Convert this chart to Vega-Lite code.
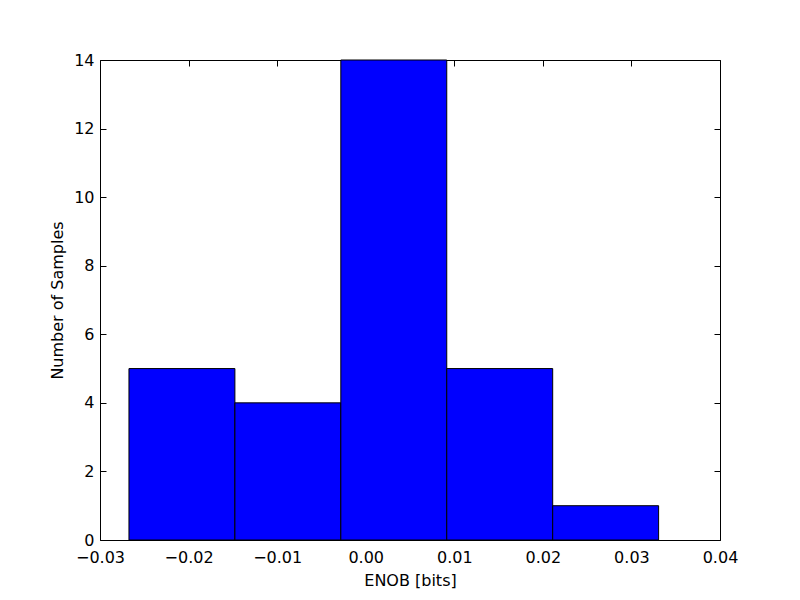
{
  "$schema": "https://vega.github.io/schema/vega-lite/v6.json",
  "width": 620,
  "height": 480,
  "autosize": "none",
  "padding": {"left": 100, "top": 60, "right": 80, "bottom": 60},
  "background": "white",
  "config": {
    "view": {"stroke": "black", "strokeWidth": 1},
    "font": "DejaVu Sans",
    "axis": {
      "grid": false,
      "domain": false,
      "tickColor": "black",
      "tickSize": -6,
      "labelFlush": false,
      "labelOverlap": false,
      "labelColor": "black",
      "labelFont": "DejaVu Sans",
      "labelFontSize": 16,
      "titleFont": "DejaVu Sans",
      "titleFontSize": 16,
      "titleFontWeight": "normal",
      "titleColor": "black"
    }
  },
  "data": {
    "values": [
      {"start": -0.02673, "end": -0.01477, "count": 5},
      {"start": -0.01477, "end": -0.00281, "count": 4},
      {"start": -0.00281, "end": 0.00915, "count": 14},
      {"start": 0.00915, "end": 0.02111, "count": 5},
      {"start": 0.02111, "end": 0.03307, "count": 1}
    ]
  },
  "layer": [
    {
      "mark": {"type": "bar", "fill": "#0000ff", "stroke": "black", "strokeWidth": 1},
      "encoding": {
        "x": {
          "field": "start", "type": "quantitative",
          "scale": {"domain": [-0.03, 0.04], "nice": false, "zero": false, "padding": 0},
          "axis": {"title": "ENOB [bits]", "values": [-0.03, -0.02, -0.01, 0, 0.01, 0.02, 0.03, 0.04], "format": ".2f", "labelFontSize": 16, "titleFontSize": 16, "labelPadding": 15, "titlePadding": 7, "labelExpr": "replace(datum.label, '-', '\u2212')"}
        },
        "x2": {"field": "end"},
        "y": {
          "field": "count", "type": "quantitative",
          "scale": {"domain": [0, 14], "nice": false, "padding": 0},
          "axis": {"title": "Number of Samples", "values": [0, 2, 4, 6, 8, 10, 12, 14], "labelFontSize": 16, "titleFontSize": 16, "labelPadding": 12, "titlePadding": 8}
        },
        "y2": {"datum": 0}
      }
    },
    {
      "mark": {"type": "point", "opacity": 0},
      "encoding": {
        "x": {
          "field": "start", "type": "quantitative",
          "scale": {"domain": [-0.03, 0.04], "nice": false, "zero": false, "padding": 0},
          "axis": {"orient": "top", "title": null, "labels": false, "values": [-0.03, -0.02, -0.01, 0, 0.01, 0.02, 0.03, 0.04]}
        },
        "y": {
          "field": "count", "type": "quantitative",
          "scale": {"domain": [0, 14], "nice": false, "padding": 0},
          "axis": {"orient": "right", "title": null, "labels": false, "values": [0, 2, 4, 6, 8, 10, 12, 14]}
        }
      }
    }
  ],
  "resolve": {"axis": {"x": "independent", "y": "independent"}}
}
